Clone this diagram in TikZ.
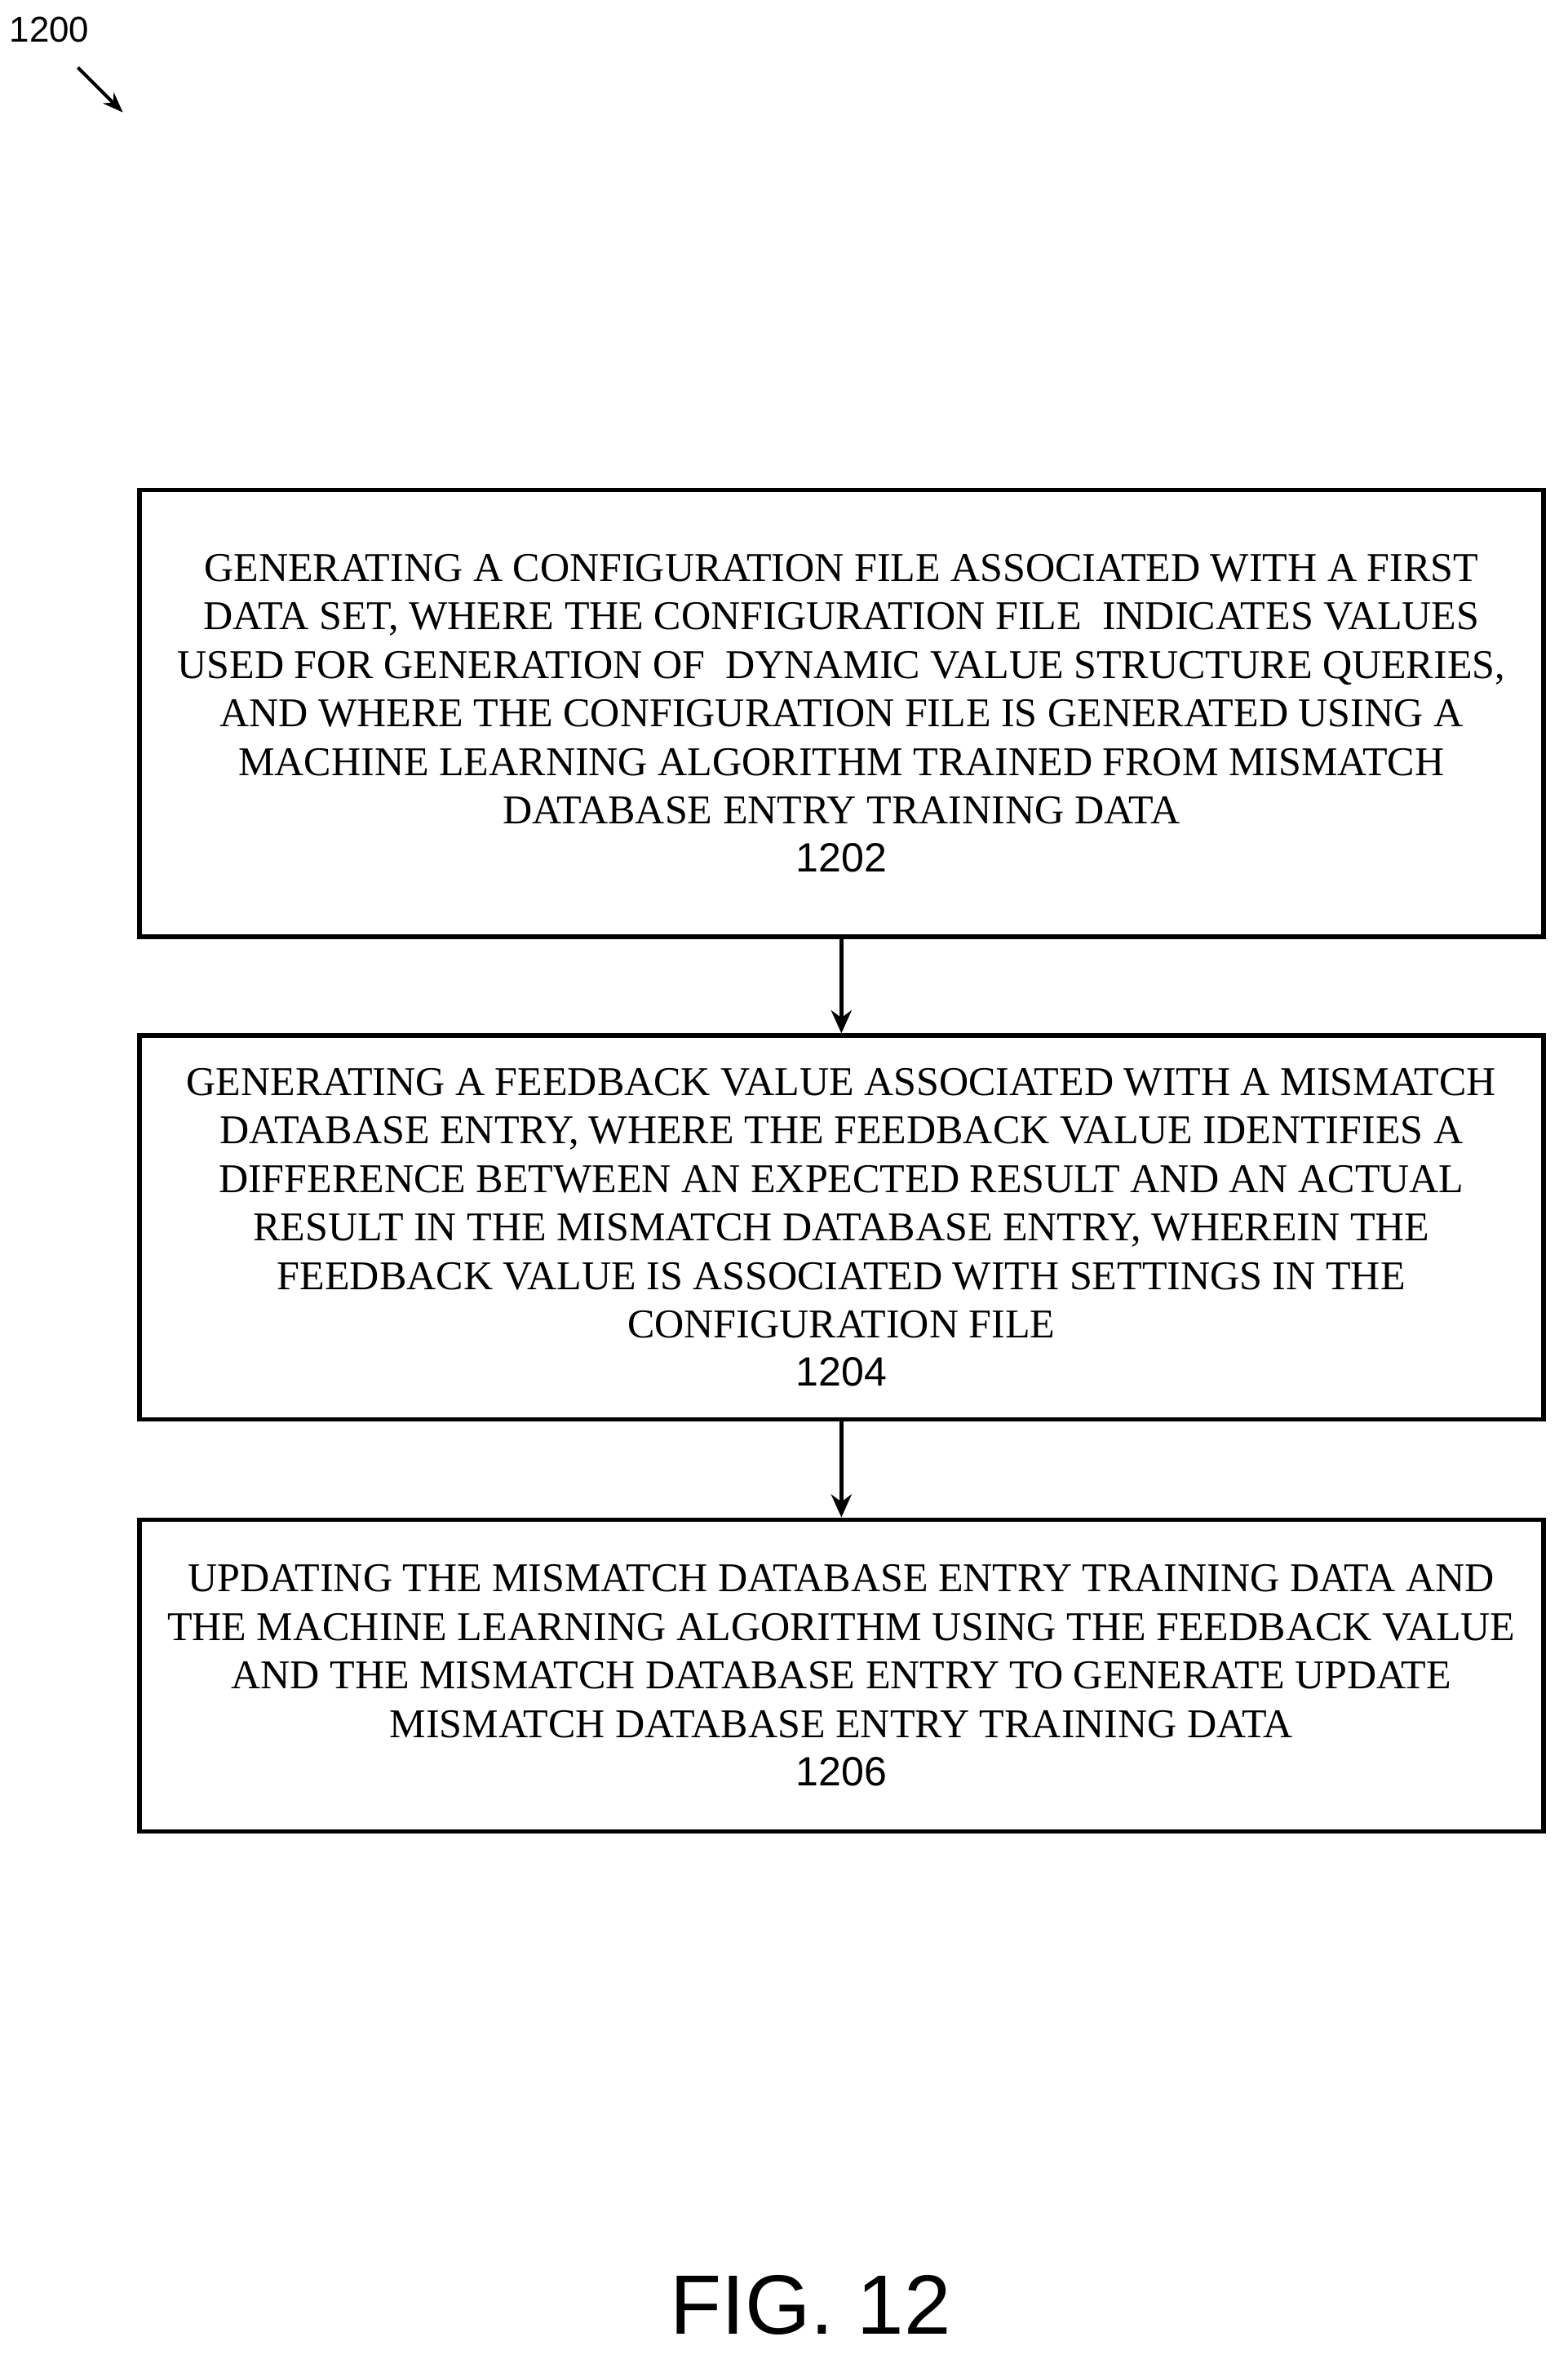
\documentclass[tikz,border=0pt]{standalone}
\usepackage{fontspec}
\usetikzlibrary{arrows.meta}
\setmainfont{Liberation Serif}
\newfontfamily\numf{Liberation Sans}
\begin{document}
\begin{tikzpicture}[x=0.587pt,y=-0.587pt,
  box/.style={draw,line width=1.8pt,minimum width=937*0.587pt,inner sep=0pt,align=center,
    font=\fontsize{16}{19}\selectfont},
  arr/.style={line width=1.8pt,-{Stealth[length=9pt,width=8pt]}}]
\useasboundingbox (0,0) rectangle (1046,1574);
\node[font=\numf\fontsize{14}{16}\selectfont] (lbl) at (33,20) {1200};
\coordinate (a0) at (52,45); \coordinate (a1) at (82,75);
\draw[line width=1.3pt,-{Stealth[length=8pt]}] (a0) -- (a1);
\node[box,minimum height=298*0.587pt] (b1) at (561.5,476) {GENERATING A CONFIGURATION FILE ASSOCIATED WITH A FIRST\\DATA SET, WHERE THE CONFIGURATION FILE \ INDICATES VALUES\\USED FOR GENERATION OF \ DYNAMIC VALUE STRUCTURE QUERIES,\\AND WHERE THE CONFIGURATION FILE IS GENERATED USING A\\MACHINE LEARNING ALGORITHM TRAINED FROM MISMATCH\\DATABASE ENTRY TRAINING DATA\\{\numf 1202}};
\node[box,minimum height=256*0.587pt] (b2) at (561.5,819) {GENERATING A FEEDBACK VALUE ASSOCIATED WITH A MISMATCH\\DATABASE ENTRY, WHERE THE FEEDBACK VALUE IDENTIFIES A\\DIFFERENCE BETWEEN AN EXPECTED RESULT AND AN ACTUAL\\RESULT IN THE MISMATCH DATABASE ENTRY, WHEREIN THE\\FEEDBACK VALUE IS ASSOCIATED WITH SETTINGS IN THE\\CONFIGURATION FILE\\{\numf 1204}};
\node[box,minimum height=208*0.587pt] (b3) at (561.5,1118) {UPDATING THE MISMATCH DATABASE ENTRY TRAINING DATA AND\\THE MACHINE LEARNING ALGORITHM USING THE FEEDBACK VALUE\\AND THE MISMATCH DATABASE ENTRY TO GENERATE UPDATE\\MISMATCH DATABASE ENTRY TRAINING DATA\\{\numf 1206}};
\draw[arr] (b1) -- (b2);
\draw[arr] (b2) -- (b3);
\node[font=\numf\fontsize{33}{36}\selectfont] (fig) at (541,1538) {FIG. 12};
\end{tikzpicture}
\end{document}
